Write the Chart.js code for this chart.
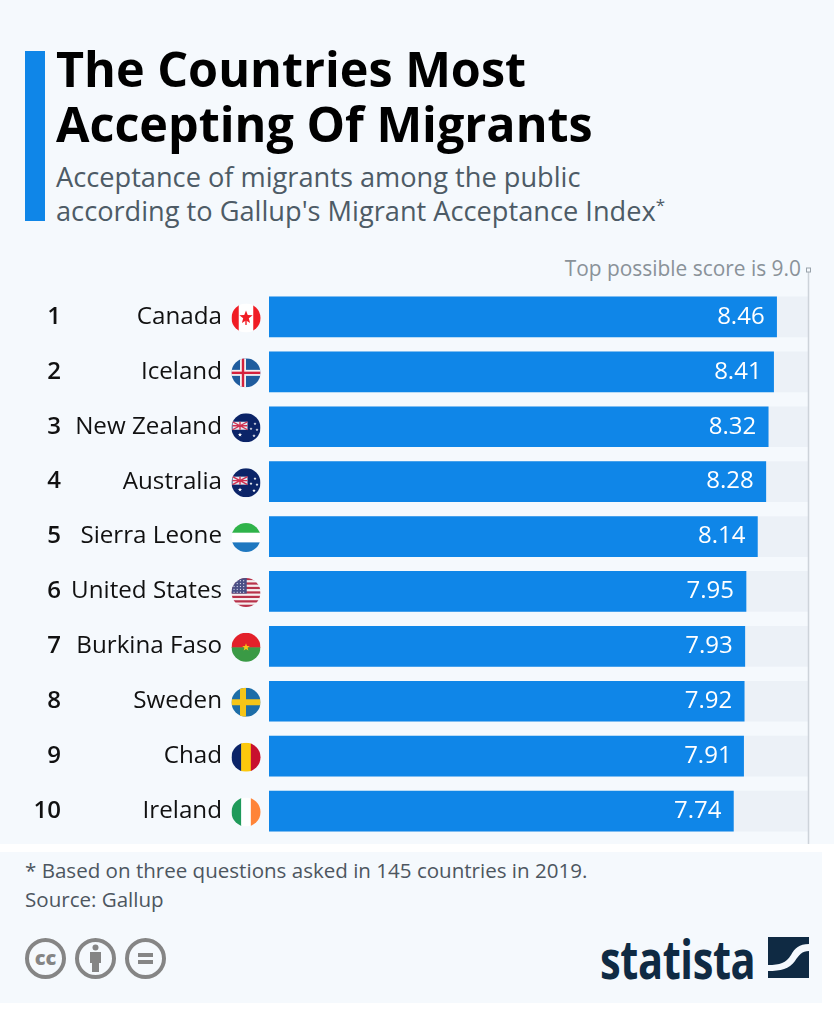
<!DOCTYPE html>
<html>
<head>
<meta charset="utf-8">
<script src="https://cdn.jsdelivr.net/npm/chart.js@4/dist/chart.umd.min.js"></script>
<style>
  html, body { margin: 0; padding: 0; background: #fff; }
  body { width: 834px; height: 1024px; position: relative; overflow: hidden; font-family: "Open Sans", sans-serif; }
  .top { position: absolute; left: 0; top: 0; width: 834px; height: 844px; background: #f5f9fd; }
  .foot { position: absolute; left: 0; top: 852px; width: 822px; height: 151px; background: #f5f9fd; }
  .accent { position: absolute; left: 25px; top: 51px; width: 20px; height: 170px; background: #0f86e8; }
  h1 { position: absolute; left: 56px; top: 41px; margin: 0; font-size: 48.5px; line-height: 55px; font-weight: 700; color: #000; white-space: nowrap; }
  .sub { position: absolute; left: 56px; top: 160px; font-size: 27.2px; line-height: 34px; color: #4d5b66; white-space: nowrap; }
  .sub sup { font-size: 17px; line-height: 0; }
  .note { position: absolute; left: 25px; top: 856px; font-size: 20.55px; line-height: 29px; color: #4d5660; white-space: nowrap; }
  #chartBox { position: absolute; left: 0; top: 250px; width: 834px; height: 605px; }
  .top-note { position: absolute; right: 33px; top: 255px; font-size: 20.9px; line-height: 26px; color: #8a9299; white-space: nowrap; }
  .cc { position: absolute; top: 938px; left: 25px; }
  .logo { position: absolute; left: 600px; top: 926px; font-size: 54px; line-height: 64px; font-weight: 700; color: #0f2a43; transform-origin: left top; transform: scaleX(0.77); letter-spacing: -0.5px; }
  .logomark { position: absolute; left: 768px; top: 937px; }
</style>
</head>
<body>
<div class="top"></div>
<div class="foot"></div>
<div class="accent"></div>
<h1>The Countries Most<br>Accepting Of Migrants</h1>
<div class="sub">Acceptance of migrants among the public<br>according to Gallup's Migrant Acceptance Index<sup>*</sup></div>
<div class="top-note">Top possible score is 9.0</div>
<div id="chartBox"><canvas id="barChart" width="834" height="605"></canvas></div>
<div class="note">* Based on three questions asked in 145 countries in 2019.<br>Source: Gallup</div>
<svg class="cc" width="145" height="41" viewBox="0 0 145 41">
  <g fill="none" stroke="#858585" stroke-width="4">
    <circle cx="20.5" cy="20.5" r="18.5"/><circle cx="70.5" cy="20.5" r="18.5"/><circle cx="120.5" cy="20.5" r="18.5"/>
  </g>
  <text x="20.5" y="27" text-anchor="middle" font-family="Open Sans" font-weight="800" font-size="20" fill="#858585">cc</text>
  <g fill="#858585">
    <circle cx="70.5" cy="9.5" r="3"/><rect x="65" y="14" width="11" height="11"/><rect x="67" y="24" width="7" height="10"/>
    <rect x="113" y="15" width="15" height="4"/><rect x="113" y="22" width="15" height="4"/>
  </g>
</svg>
<div class="logo">statista</div>
<svg class="logomark" width="41" height="41" viewBox="0 0 41 41">
  <path fill="#0f2a43" d="M0 0H41V7C31 7 27 11 23 18C18 26 12 28 0 28Z M41 14V41H0V34C13 34 21 32 27 24C31 18 34 14 41 14Z"/>
</svg>
<script>
const countries = ["Canada", "Iceland", "New Zealand", "Australia", "Sierra Leone", "United States", "Burkina Faso", "Sweden", "Chad", "Ireland"];
const scores = [8.46, 8.41, 8.32, 8.28, 8.14, 7.95, 7.93, 7.92, 7.91, 7.74];
const ranks = ["1", "2", "3", "4", "5", "6", "7", "8", "9", "10"];
const topScore = 9;

function stripesH(ctx, x, y, r, cols) {
  const h = 2 * r / cols.length;
  cols.forEach((c, i) => { ctx.fillStyle = c; ctx.fillRect(x - r, y - r + i * h, 2 * r, h + 0.5); });
}
function stripesV(ctx, x, y, r, cols) {
  const w = 2 * r / cols.length;
  cols.forEach((c, i) => { ctx.fillStyle = c; ctx.fillRect(x - r + i * w, y - r, w + 0.5, 2 * r); });
}
function nordic(ctx, x, y, r, bg, cross, inner) {
  ctx.fillStyle = bg; ctx.fillRect(x - r, y - r, 2 * r, 2 * r);
  ctx.fillStyle = cross;
  ctx.fillRect(x - r, y - 3, 2 * r, 6);
  ctx.fillRect(x - 6, y - r, 6, 2 * r);
  if (inner) {
    ctx.fillStyle = inner;
    ctx.fillRect(x - r, y - 1.2, 2 * r, 2.4);
    ctx.fillRect(x - 4.2, y - r, 2.4, 2 * r);
  }
}
function star(ctx, x, y, s, col) {
  ctx.fillStyle = col;
  ctx.beginPath();
  for (let i = 0; i < 10; i++) {
    const a = -Math.PI / 2 + i * Math.PI / 5, q = i % 2 ? s * 0.42 : s;
    ctx.lineTo(x + q * Math.cos(a), y + q * Math.sin(a));
  }
  ctx.fill();
}
function anzac(ctx, x, y, r, starCol) {
  ctx.fillStyle = "#0b2468"; ctx.fillRect(x - r, y - r, 2 * r, 2 * r);
  // small union jack
  const ux = x - r + 1, uy = y - 6, uw = 15, uh = 8;
  ctx.fillStyle = "#e8e8f0"; ctx.fillRect(ux, uy, uw, uh);
  ctx.strokeStyle = "#d03050"; ctx.lineWidth = 1.4;
  ctx.beginPath();
  ctx.moveTo(ux, uy); ctx.lineTo(ux + uw, uy + uh);
  ctx.moveTo(ux + uw, uy); ctx.lineTo(ux, uy + uh);
  ctx.moveTo(ux + uw / 2, uy); ctx.lineTo(ux + uw / 2, uy + uh);
  ctx.moveTo(ux, uy + uh / 2); ctx.lineTo(ux + uw, uy + uh / 2);
  ctx.stroke();
  star(ctx, x + 9, y - 4, 1.6, starCol);
  star(ctx, x + 5, y + 1, 1.6, starCol);
  star(ctx, x + 11, y + 2, 1.6, starCol);
  star(ctx, x + 8, y + 8, 1.8, starCol);
  star(ctx, x - 6, y + 7, 2.2, "#fff");
}
const flagPainters = {
  "Canada": (ctx, x, y, r) => {
    stripesV(ctx, x, y, r, ["#f01c24", "#ffffff", "#ffffff", "#f01c24"]);
    star(ctx, x, y - 0.5, 7, "#f01c24");
    ctx.fillRect(x - 0.7, y + 2, 1.4, 5);
  },
  "Iceland": (ctx, x, y, r) => nordic(ctx, x, y, r, "#1f5c9e", "#f2f2f2", "#d4213d"),
  "New Zealand": (ctx, x, y, r) => anzac(ctx, x, y, r, "#e8e8f0"),
  "Australia": (ctx, x, y, r) => anzac(ctx, x, y, r, "#ffffff"),
  "Sierra Leone": (ctx, x, y, r) => stripesH(ctx, x, y, r, ["#2fb34a", "#ffffff", "#1f78c0"]),
  "United States": (ctx, x, y, r) => {
    const h = 2 * r / 13;
    for (let i = 0; i < 13; i++) {
      ctx.fillStyle = i % 2 ? "#f5f0f0" : "#b8324a";
      ctx.fillRect(x - r, y - r + i * h, 2 * r, h + 0.5);
    }
    ctx.fillStyle = "#4a4f85"; ctx.fillRect(x - r, y - r, r * 1.05, h * 7);
    ctx.fillStyle = "#d8d8ea";
    for (let i = 0; i < 5; i++) for (let j = 0; j < 4; j++) ctx.fillRect(x - r + 2 + j * 3.2, y - r + 2.2 + i * 2.9, 1.1, 1.1);
  },
  "Burkina Faso": (ctx, x, y, r) => {
    stripesH(ctx, x, y, r, ["#e3202a", "#3a9a45"]);
    star(ctx, x, y, 4, "#f5c518");
  },
  "Sweden": (ctx, x, y, r) => nordic(ctx, x, y, r, "#1d6ea8", "#f5c518"),
  "Chad": (ctx, x, y, r) => stripesV(ctx, x, y, r, ["#0b2468", "#fdc90c", "#c8102e"]),
  "Ireland": (ctx, x, y, r) => stripesV(ctx, x, y, r, ["#1f9a5a", "#ffffff", "#ff8438"])
};

// ranks, flags, top score rule and value labels are painted on top of the bars
const overlayPlugin = {
  id: "overlay",
  afterDatasetsDraw(chart) {
    const ctx = chart.ctx;
    const yScale = chart.scales.y, xScale = chart.scales.x;
    const ruleX = xScale.getPixelForValue(topScore) - 0.5;

    ctx.save();
    ctx.strokeStyle = "#cdd3da";
    ctx.lineWidth = 1.5;
    ctx.beginPath();
    ctx.moveTo(ruleX, 22);
    ctx.lineTo(ruleX, 594);
    ctx.stroke();
    ctx.fillStyle = "#f5f9fd";
    ctx.strokeStyle = "#9aa3ab";
    ctx.lineWidth = 1;
    ctx.fillRect(ruleX - 2, 18, 4, 4);
    ctx.strokeRect(ruleX - 2, 18, 4, 4);

    countries.forEach((name, i) => {
      const y = yScale.getPixelForValue(i);
      ctx.fillStyle = "#111";
      ctx.font = "600 24px 'Open Sans'";
      ctx.textAlign = "right";
      ctx.textBaseline = "middle";
      ctx.fillText(ranks[i], 61, y);

      ctx.save();
      ctx.beginPath();
      ctx.arc(246, y + 1, 14.5, 0, Math.PI * 2);
      ctx.clip();
      flagPainters[name](ctx, 246, y + 1, 14.5);
      ctx.restore();

      ctx.fillStyle = "#ffffff";
      ctx.font = "24px 'Open Sans'";
      ctx.fillText(scores[i].toFixed(2), xScale.getPixelForValue(scores[i]) - 12, y);
    });
    ctx.restore();
  }
};

new Chart(document.getElementById("barChart"), {
  type: "bar",
  plugins: [overlayPlugin],
  data: {
    labels: countries,
    datasets: [
      { label: "Acceptance", data: scores, backgroundColor: "#0f86e8", grouped: false, order: 1, barThickness: 40 },
      { label: "Top score", data: countries.map(() => topScore), backgroundColor: "#ecf1f7", grouped: false, order: 2, barThickness: 40 }
    ]
  },
  options: {
    indexAxis: "y",
    responsive: false,
    animation: false,
    layout: { padding: { left: 0, right: 25, top: 39.5, bottom: 16.5 } },
    plugins: { legend: { display: false }, tooltip: { enabled: false } },
    scales: {
      x: {
        min: 0,
        max: topScore,
        display: false
      },
      y: {
        // tick padding also pads the scale top and bottom, so the gap to the bars comes from tickLength
        grid: { display: false, tickLength: 47 },
        border: { display: false },
        afterFit(scale) { scale.width = 269; },
        ticks: {
          color: "#111",
          font: { family: "Open Sans", size: 24.2 },
          padding: 0,
          autoSkip: false
        }
      }
    }
  }
});
</script>
</body>
</html>
